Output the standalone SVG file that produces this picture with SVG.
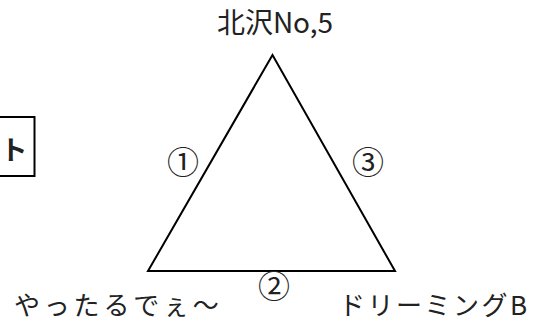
<svg xmlns="http://www.w3.org/2000/svg" width="539" height="323" viewBox="0 0 539 323">
<style>
text{font-family:"Noto Sans CJK JP","Noto Sans",sans-serif;fill:#222;}
.lbl{font-size:26px;}
.num{font-size:32px;text-anchor:middle;}
</style>
<rect width="539" height="323" fill="#fff"/>
<g id="box">
<rect x="-10" y="117" width="44.5" height="59" fill="#fff" stroke="#000" stroke-width="2"/>
<text x="14" y="160" font-size="27" font-weight="bold" text-anchor="middle" fill="#111">ト</text>
</g>
<g id="connectors">
<polygon points="272.5,55 148,271 395,271" fill="none" stroke="#000" stroke-width="2" stroke-linejoin="miter"/>
</g>
<g id="top"><text x="275" y="33" text-anchor="middle" font-size="28">北沢No,5</text></g>
<g id="left"><text class="lbl" x="14" y="315" letter-spacing="3.8">やったるでぇ～</text></g>
<g id="right"><text class="lbl" x="339" y="315" letter-spacing="2.5">ドリーミングB</text></g>
<g id="n1"><text class="num" x="183" y="174">①</text></g>
<g id="n2"><text class="num" x="274" y="298">②</text></g>
<g id="n3"><text class="num" x="368" y="174">③</text></g>
</svg>
